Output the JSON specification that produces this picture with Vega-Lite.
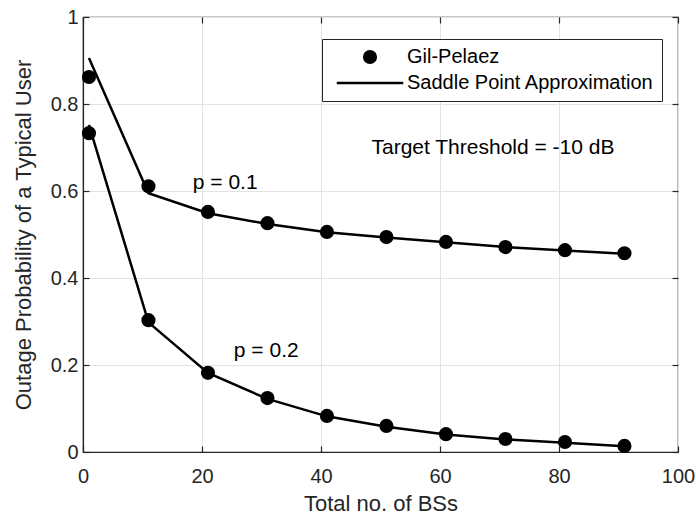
{
  "$schema": "https://vega.github.io/schema/vega-lite/v6.json",
  "width": 595,
  "height": 435,
  "autosize": {"type": "none"},
  "padding": {"left": 83, "top": 17, "right": 18, "bottom": 64},
  "background": "white",
  "config": {
    "font": "Liberation Sans",
    "view": {"stroke": "#262626", "strokeWidth": 1.2},
    "axis": {
      "domainColor": "#262626",
      "domainWidth": 1.2,
      "tickColor": "#262626",
      "tickWidth": 1.2,
      "labelColor": "#262626",
      "titleColor": "#262626",
      "labelFontSize": 20,
      "titleFontSize": 22,
      "titleFontWeight": "normal",
      "labelFlush": false,
      "gridColor": "#e3e3e3",
      "gridWidth": 1
    }
  },
  "datasets": {
    "curves": [
      {"n": 1, "p": "0.1", "method": "Gil-Pelaez", "value": 0.862},
      {"n": 11, "p": "0.1", "method": "Gil-Pelaez", "value": 0.611},
      {"n": 21, "p": "0.1", "method": "Gil-Pelaez", "value": 0.552},
      {"n": 31, "p": "0.1", "method": "Gil-Pelaez", "value": 0.526},
      {"n": 41, "p": "0.1", "method": "Gil-Pelaez", "value": 0.506},
      {"n": 51, "p": "0.1", "method": "Gil-Pelaez", "value": 0.494},
      {"n": 61, "p": "0.1", "method": "Gil-Pelaez", "value": 0.483},
      {"n": 71, "p": "0.1", "method": "Gil-Pelaez", "value": 0.471},
      {"n": 81, "p": "0.1", "method": "Gil-Pelaez", "value": 0.464},
      {"n": 91, "p": "0.1", "method": "Gil-Pelaez", "value": 0.457},
      {"n": 1, "p": "0.2", "method": "Gil-Pelaez", "value": 0.733},
      {"n": 11, "p": "0.2", "method": "Gil-Pelaez", "value": 0.303},
      {"n": 21, "p": "0.2", "method": "Gil-Pelaez", "value": 0.182},
      {"n": 31, "p": "0.2", "method": "Gil-Pelaez", "value": 0.124},
      {"n": 41, "p": "0.2", "method": "Gil-Pelaez", "value": 0.083},
      {"n": 51, "p": "0.2", "method": "Gil-Pelaez", "value": 0.06},
      {"n": 61, "p": "0.2", "method": "Gil-Pelaez", "value": 0.041},
      {"n": 71, "p": "0.2", "method": "Gil-Pelaez", "value": 0.03},
      {"n": 81, "p": "0.2", "method": "Gil-Pelaez", "value": 0.023},
      {"n": 91, "p": "0.2", "method": "Gil-Pelaez", "value": 0.014},
      {"n": 1, "p": "0.1", "method": "Saddle Point Approximation", "value": 0.906},
      {"n": 11, "p": "0.1", "method": "Saddle Point Approximation", "value": 0.595},
      {"n": 21, "p": "0.1", "method": "Saddle Point Approximation", "value": 0.549},
      {"n": 31, "p": "0.1", "method": "Saddle Point Approximation", "value": 0.524},
      {"n": 41, "p": "0.1", "method": "Saddle Point Approximation", "value": 0.505},
      {"n": 51, "p": "0.1", "method": "Saddle Point Approximation", "value": 0.493},
      {"n": 61, "p": "0.1", "method": "Saddle Point Approximation", "value": 0.482},
      {"n": 71, "p": "0.1", "method": "Saddle Point Approximation", "value": 0.471},
      {"n": 81, "p": "0.1", "method": "Saddle Point Approximation", "value": 0.463},
      {"n": 91, "p": "0.1", "method": "Saddle Point Approximation", "value": 0.456},
      {"n": 1, "p": "0.2", "method": "Saddle Point Approximation", "value": 0.752},
      {"n": 11, "p": "0.2", "method": "Saddle Point Approximation", "value": 0.298},
      {"n": 21, "p": "0.2", "method": "Saddle Point Approximation", "value": 0.182},
      {"n": 31, "p": "0.2", "method": "Saddle Point Approximation", "value": 0.122},
      {"n": 41, "p": "0.2", "method": "Saddle Point Approximation", "value": 0.082},
      {"n": 51, "p": "0.2", "method": "Saddle Point Approximation", "value": 0.058},
      {"n": 61, "p": "0.2", "method": "Saddle Point Approximation", "value": 0.04},
      {"n": 71, "p": "0.2", "method": "Saddle Point Approximation", "value": 0.029},
      {"n": 81, "p": "0.2", "method": "Saddle Point Approximation", "value": 0.021},
      {"n": 91, "p": "0.2", "method": "Saddle Point Approximation", "value": 0.013}
    ],
    "notes": [
      {"label": "p = 0.1", "x": 23.9, "y": 0.618},
      {"label": "p = 0.2", "x": 30.8, "y": 0.232},
      {"label": "Target Threshold = -10 dB", "x": 68.9, "y": 0.699}
    ]
  },
  "resolve": {"axis": {"x": "independent", "y": "independent"}},
  "layer": [
    {
      "data": {"name": "curves"},
      "transform": [{"filter": "datum.method === 'Saddle Point Approximation'"}],
      "mark": {"type": "line", "color": "black", "strokeWidth": 2.5},
      "encoding": {
        "x": {"field": "n", "type": "quantitative",
              "scale": {"domain": [0, 100], "nice": false},
              "axis": {"title": "Total no. of BSs", "values": [0, 20, 40, 60, 80, 100], "tickSize": -6, "labelPadding": 20, "titlePadding": 7, "grid": true}},
        "y": {"field": "value", "type": "quantitative",
              "scale": {"domain": [0, 1], "nice": false},
              "axis": {"title": "Outage Probability of a Typical User", "values": [0, 0.2, 0.4, 0.6, 0.8, 1], "labelExpr": "datum.value === 0 ? '0' : datum.value === 1 ? '1' : format(datum.value, '.1f')", "tickSize": -6, "labelPadding": 11, "titlePadding": 15, "grid": true}},
        "detail": {"field": "p"}
      }
    },
    {
      "data": {"name": "curves"},
      "transform": [{"filter": "datum.method === 'Gil-Pelaez'"}],
      "mark": {"type": "point", "filled": true, "color": "black", "size": 200, "opacity": 1},
      "encoding": {
        "x": {"field": "n", "type": "quantitative",
              "axis": {"orient": "top", "title": null, "labels": false, "grid": false, "domain": false, "values": [0, 20, 40, 60, 80, 100], "tickSize": -6}},
        "y": {"field": "value", "type": "quantitative",
              "axis": {"orient": "right", "title": null, "labels": false, "grid": false, "domain": false, "values": [0, 0.2, 0.4, 0.6, 0.8, 1], "tickSize": -6}},
        "shape": {"field": "method", "type": "nominal",
                  "scale": {"domain": ["Gil-Pelaez", "Saddle Point Approximation"], "range": ["circle", "M-4.7,-0.19L4.7,-0.19L4.7,0.19L-4.7,0.19Z"]},
                  "legend": {"title": null, "orient": "none", "legendX": 239, "legendY": 22,
                             "fillColor": "white", "strokeColor": "#262626",
                             "padding": 8, "labelFontSize": 20, "labelColor": "black", "labelLimit": 500,
                             "symbolSize": 200, "symbolFillColor": "black",
                             "labelOffset": 27, "rowPadding": 5, "symbolOffset": 30}}
      }
    },
    {
      "data": {"name": "notes"},
      "mark": {"type": "text", "fontSize": 21, "color": "black", "align": "center", "baseline": "middle"},
      "encoding": {
        "x": {"field": "x", "type": "quantitative", "axis": null},
        "y": {"field": "y", "type": "quantitative", "axis": null},
        "text": {"field": "label"}
      }
    }
  ]
}
